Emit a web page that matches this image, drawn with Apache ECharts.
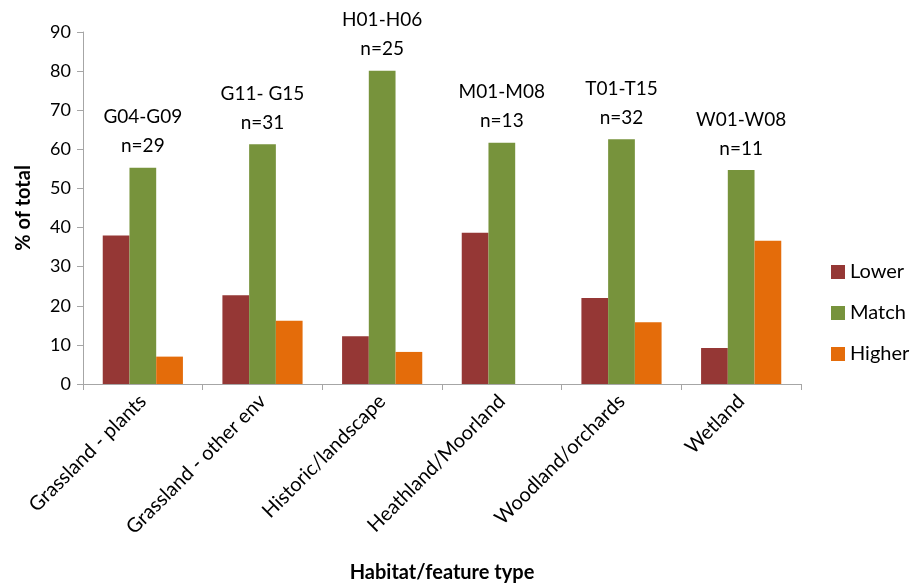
<!DOCTYPE html>
<html>
<head>
<meta charset="utf-8">
<script src="https://cdn.jsdelivr.net/npm/echarts@6/dist/echarts.min.js"></script>
<style>
  html, body { margin: 0; padding: 0; background: #fff; }
  #chart { width: 910px; height: 588px; }
</style>
</head>
<body>
<div id="chart"></div>
<script>
// Habitat / feature categories along the x axis
const categories = ['Grassland - plants', 'Grassland - other env', 'Historic/landscape', 'Heathland/Moorland', 'Woodland/orchards', 'Wetland'];
// Code ranges and sample sizes shown above each group
const codeRanges = ['G04-G09', 'G11- G15', 'H01-H06', 'M01-M08', 'T01-T15', 'W01-W08'];
const sampleSizes = [29, 31, 25, 13, 32, 11];
// Percentage of total per outcome
const lower  = [38.0, 22.7, 12.2, 38.7, 22.0, 9.2];
const match  = [55.3, 61.3, 80.1, 61.7, 62.6, 54.7];
const higher = [7.0, 16.2, 8.2, 0, 15.8, 36.6];
const yTicks = { min: 0, max: 90, interval: 10 };

const FONT = 'Lato, "Open Sans", sans-serif';
const axisGray = '#a6a6a6';

const chart = echarts.init(document.getElementById('chart'));
chart.setOption({
  animation: false,
  textStyle: { fontFamily: FONT, color: '#000' },
  grid: { left: 83, right: 109, top: 32, bottom: 196, containLabel: false },
  legend: {
    orient: 'vertical',
    left: 831,
    top: 262,
    padding: 0,
    itemWidth: 14,
    itemHeight: 14,
    itemGap: 21,
    icon: 'rect',
    textStyle: { fontFamily: FONT, fontSize: 20, lineHeight: 20, color: '#000' },
    data: ['Lower', 'Match', 'Higher']
  },
  xAxis: {
    type: 'category',
    data: categories,
    name: 'Habitat/feature type',
    nameLocation: 'middle',
    nameGap: 179,
    nameTextStyle: { fontFamily: FONT, fontSize: 20, fontWeight: 'bold', color: '#000' },
    axisLine: { lineStyle: { color: axisGray, width: 1 } },
    axisTick: { show: true, alignWithLabel: false, length: 6, lineStyle: { color: axisGray } },
    axisLabel: {
      rotate: 45,
      interval: 0,
      margin: 14,
      fontSize: 20,
      fontFamily: FONT,
      color: '#000'
    }
  },
  yAxis: {
    type: 'value',
    min: yTicks.min,
    max: yTicks.max,
    interval: yTicks.interval,
    name: '% of total',
    nameLocation: 'middle',
    nameGap: 49,
    nameRotate: 90,
    nameTextStyle: { fontFamily: FONT, fontSize: 20, fontWeight: 'bold', color: '#000' },
    axisLine: { show: true, lineStyle: { color: axisGray, width: 1 } },
    axisTick: { show: true, length: 6, lineStyle: { color: axisGray } },
    splitLine: { show: false },
    axisLabel: { fontSize: 18, margin: 12, color: '#000', fontFamily: FONT }
  },
  series: [
    {
      name: 'Lower',
      type: 'bar',
      data: lower,
      barGap: '0%',
      barCategoryGap: '33%',
      itemStyle: { color: '#953735' }
    },
    {
      name: 'Match',
      type: 'bar',
      data: match,
      itemStyle: { color: '#77933C' },
      label: {
        show: true,
        position: 'top',
        distance: 7,
        fontSize: 19,
        lineHeight: 29,
        fontFamily: FONT,
        color: '#000',
        formatter: p => codeRanges[p.dataIndex] + '\nn=' + sampleSizes[p.dataIndex]
      }
    },
    {
      name: 'Higher',
      type: 'bar',
      data: higher,
      itemStyle: { color: '#E46C0A' }
    }
  ]
});
</script>
</body>
</html>
